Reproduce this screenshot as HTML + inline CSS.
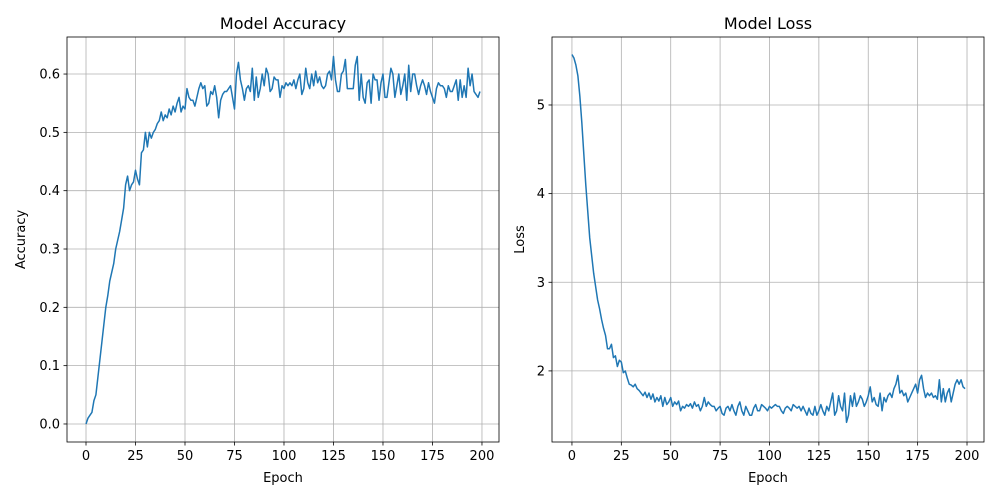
<!DOCTYPE html>
<html><head><meta charset="utf-8"><style>
body{margin:0;background:#fff}
svg{display:block;font-family:"DejaVu Sans","Liberation Sans",sans-serif}
</style></head><body>
<svg id="chart" width="1000" height="500"></svg>
<script>
const epochs = Array.from({length:200},(_, i)=>i);
const accuracy = [0.00,0.01,0.015,0.02,0.04,0.05,0.08,0.11,0.14,0.17,0.20,0.22,0.245,0.26,0.275,0.30,0.315,0.33,0.35,0.37,0.41,0.425,0.40,0.41,0.415,0.435,0.42,0.41,0.465,0.47,0.50,0.475,0.50,0.49,0.50,0.505,0.515,0.52,0.535,0.52,0.53,0.525,0.54,0.53,0.545,0.535,0.55,0.56,0.535,0.545,0.54,0.575,0.56,0.555,0.555,0.545,0.56,0.575,0.585,0.575,0.58,0.545,0.55,0.57,0.565,0.58,0.56,0.525,0.555,0.565,0.57,0.57,0.575,0.58,0.56,0.54,0.60,0.62,0.59,0.575,0.555,0.575,0.58,0.57,0.61,0.555,0.595,0.56,0.575,0.60,0.58,0.61,0.60,0.57,0.575,0.595,0.59,0.59,0.56,0.58,0.575,0.585,0.58,0.585,0.58,0.59,0.575,0.59,0.60,0.565,0.575,0.61,0.585,0.575,0.60,0.58,0.605,0.585,0.595,0.58,0.575,0.58,0.60,0.605,0.59,0.63,0.59,0.57,0.57,0.60,0.605,0.625,0.575,0.575,0.575,0.575,0.615,0.63,0.555,0.60,0.56,0.55,0.585,0.59,0.55,0.60,0.59,0.59,0.555,0.585,0.60,0.56,0.56,0.585,0.61,0.60,0.56,0.58,0.60,0.565,0.58,0.60,0.555,0.615,0.57,0.60,0.60,0.58,0.565,0.58,0.59,0.58,0.565,0.585,0.57,0.56,0.55,0.575,0.585,0.58,0.58,0.575,0.56,0.58,0.57,0.57,0.58,0.59,0.555,0.59,0.56,0.58,0.56,0.61,0.58,0.60,0.57,0.565,0.56,0.57];
const loss = [5.57,5.53,5.45,5.33,5.1,4.8,4.45,4.1,3.8,3.5,3.3,3.1,2.95,2.8,2.7,2.58,2.48,2.4,2.25,2.25,2.3,2.15,2.17,2.05,2.12,2.1,1.98,2.0,1.92,1.85,1.84,1.82,1.85,1.8,1.78,1.75,1.72,1.76,1.7,1.75,1.68,1.74,1.65,1.7,1.66,1.72,1.6,1.7,1.62,1.65,1.7,1.6,1.65,1.62,1.66,1.55,1.6,1.58,1.62,1.6,1.63,1.58,1.65,1.6,1.62,1.55,1.6,1.7,1.6,1.65,1.62,1.6,1.6,1.55,1.58,1.6,1.52,1.5,1.58,1.6,1.55,1.62,1.55,1.5,1.6,1.65,1.55,1.5,1.6,1.55,1.5,1.5,1.58,1.62,1.55,1.55,1.62,1.6,1.58,1.55,1.6,1.58,1.6,1.62,1.6,1.6,1.55,1.52,1.58,1.6,1.58,1.55,1.62,1.6,1.58,1.6,1.55,1.6,1.55,1.5,1.58,1.52,1.5,1.6,1.5,1.55,1.62,1.55,1.5,1.6,1.55,1.65,1.75,1.5,1.55,1.72,1.6,1.55,1.75,1.42,1.5,1.72,1.6,1.75,1.6,1.65,1.72,1.68,1.6,1.65,1.72,1.82,1.65,1.7,1.62,1.6,1.75,1.55,1.7,1.65,1.72,1.75,1.7,1.8,1.85,1.95,1.75,1.78,1.72,1.75,1.65,1.7,1.75,1.8,1.85,1.75,1.9,1.95,1.8,1.7,1.75,1.72,1.75,1.7,1.72,1.68,1.9,1.65,1.8,1.65,1.75,1.8,1.65,1.75,1.85,1.9,1.85,1.9,1.82,1.8];
const xTicks = [0,25,50,75,100,125,150,175,200];
const accTicks = [0.0,0.1,0.2,0.3,0.4,0.5,0.6];
const lossTicks = [2,3,4,5];

const NS="http://www.w3.org/2000/svg";
const svg=document.getElementById('chart');
function mk(tag,attrs,parent){const e=document.createElementNS(NS,tag);for(const k in attrs)e.setAttribute(k,attrs[k]);(parent||svg).appendChild(e);return e;}

function panel(o){
  const g=mk('g',{});
  
  
  const X=v=>o.x0+(v-o.xmin)/(o.xmax-o.xmin)*(o.x1-o.x0);
  const Y=v=>o.y1-(v-o.ymin)/(o.ymax-o.ymin)*(o.y1-o.y0);
  xTicks.forEach(t=>{
    const x=X(t);
    const l=mk('line',{x1:x,x2:x,y1:o.y0,y2:o.y1,stroke:'#b0b0b0','stroke-width':0.8},g);
    
    
    mk('line',{x1:x,x2:x,y1:o.y1,y2:o.y1+3.5,stroke:'#000','stroke-width':0.8},g);
    const tx=mk('text',{x:x,y:o.y1+18,'font-size':13,'text-anchor':'middle'},g);
    tx.textContent=t;
    
    
  });
  o.yTicks.forEach(t=>{
    const y=Y(t);
    const l=mk('line',{x1:o.x0,x2:o.x1,y1:y,y2:y,stroke:'#b0b0b0','stroke-width':0.8},g);
    
    
    mk('line',{x1:o.x0-3.5,x2:o.x0,y1:y,y2:y,stroke:'#000','stroke-width':0.8},g);
    const tx=mk('text',{x:o.x0-7,y:y+4.5,'font-size':13,'text-anchor':'end'},g);
    tx.textContent=o.fmt(t);
    
    
  });
  const d=o.data.map((v,i)=>(i?'L':'M')+X(epochs[i]).toFixed(2)+','+Y(v).toFixed(2)).join('');
  const p=mk('path',{d:d,fill:'none',stroke:'#1f77b4','stroke-width':1.5,'stroke-linejoin':'round'},g);
  
  
  const r=mk('rect',{x:o.x0,y:o.y0,width:o.x1-o.x0,height:o.y1-o.y0,fill:'none',stroke:'#000','stroke-width':0.8},g);
  
  
  const t=mk('text',{x:(o.x0+o.x1)/2,y:o.y0-8,'font-size':16,'text-anchor':'middle'},g);
  t.textContent=o.title;
  
  
  const xl=mk('text',{x:(o.x0+o.x1)/2,y:o.y1+40,'font-size':13,'text-anchor':'middle'},g);
  xl.textContent='Epoch';
  
  
  const yx=o.yLabelX, yy=(o.y0+o.y1)/2;
  const yl=mk('text',{x:yx,y:yy,'font-size':13,'text-anchor':'middle',transform:`rotate(-90 ${yx} ${yy})`},g);
  yl.textContent=o.ylabel;
  
  
}
panel({name:'accuracy-panel',seriesName:'accuracy-line',title:'Model Accuracy',ylabel:'Accuracy',data:accuracy,
  x0:67,x1:499,y0:37,y1:442,xmin:-9.6,xmax:208.6,ymin:-0.0309,ymax:0.6635,yTicks:accTicks,fmt:v=>v.toFixed(1),yLabelX:25});
panel({name:'loss-panel',seriesName:'loss-line',title:'Model Loss',ylabel:'Loss',data:loss,
  x0:552,x1:984,y0:37,y1:442,xmin:-10.1,xmax:208.6,ymin:1.198,ymax:5.767,yTicks:lossTicks,fmt:v=>v,yLabelX:524});
</script>
</body></html>
